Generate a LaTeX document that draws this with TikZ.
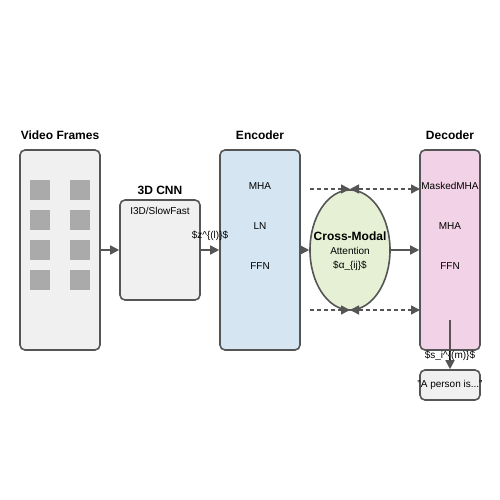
\documentclass[tikz,border=0pt]{standalone}
\usepackage{fontspec}
\setmainfont{Liberation Sans}
\usetikzlibrary{arrows.meta,shapes.geometric}
\definecolor{edgec}{HTML}{555555}
\definecolor{arrc}{HTML}{555555}
\definecolor{grayfill}{HTML}{F0F0F0}
\definecolor{encfill}{HTML}{D5E5F2}
\definecolor{decfill}{HTML}{F2D2E6}
\definecolor{attfill}{HTML}{E5F0D5}
\definecolor{sq}{HTML}{AAAAAA}
\begin{document}
\begin{tikzpicture}[x=1pt,y=-1pt,
  box/.style={draw=edgec,line width=1.6pt,rounded corners=5pt},
  title/.style={font=\fontsize{12}{14}\selectfont\bfseries,inner sep=0pt},
  lbl/.style={font=\fontsize{10}{12}\selectfont,inner sep=0pt},
  sqr/.style={fill=sq,draw=none,minimum size=20pt,inner sep=0pt},
  arr/.style={draw=arrc,line width=1.6pt,-{Triangle[length=9pt,width=9pt]}},
  darr/.style={draw=arrc,line width=1.6pt,dash pattern=on 4pt off 3pt,-{Triangle[length=9pt,width=9pt]}},
  dbarr/.style={draw=arrc,line width=1.6pt,dash pattern=on 4pt off 3pt,{Triangle[length=9pt,width=9pt]}-{Triangle[length=9pt,width=9pt]}}]
\useasboundingbox (0,0) rectangle (500,500);
% Video frames
\node[box,fill=grayfill,minimum width=80pt,minimum height=200pt,inner sep=0pt] (vf) at (60,250) {};
\node[title] (vft) at (60,135) {Video Frames};
\foreach \r/\y in {1/190,2/220,3/250,4/280}{
  \node[sqr] (sqa\r) at (40,\y) {};
  \node[sqr] (sqb\r) at (80,\y) {};
}
% 3D CNN
\node[box,fill=grayfill,minimum width=80pt,minimum height=100pt,inner sep=0pt] (cnn) at (160,250) {};
\node[title] (cnnt) at (160,190) {3D CNN};
\node[lbl] (cnnl) at (160,211) {I3D/SlowFast};
% Encoder
\node[box,fill=encfill,minimum width=80pt,minimum height=200pt,inner sep=0pt] (enc) at (260,250) {};
\node[title] (enct) at (260,135) {Encoder};
\node[lbl] (e1) at (260,186) {MHA};
\node[lbl] (e2) at (260,226) {LN};
\node[lbl] (e3) at (260,266) {FFN};
% Attention
\node[ellipse,draw=edgec,line width=1.6pt,fill=attfill,minimum width=80pt,minimum height=120pt,inner sep=0pt] (att) at (350,250) {};
\node[title] (a1) at (350,236) {Cross-Modal};
\node[lbl] (a2) at (350,251) {Attention};
\node[lbl] (a3) at (350,266) {\$α\_\{ij\}\$};
% Decoder
\node[box,fill=decfill,minimum width=60pt,minimum height=200pt,inner sep=0pt] (dec) at (450,250) {};
\node[title] (dect) at (450,135) {Decoder};
\node[lbl] (d1) at (450,186) {MaskedMHA};
\node[lbl] (d2) at (450,226) {MHA};
\node[lbl] (d3) at (450,266) {FFN};
% Output
\node[box,fill=grayfill,minimum width=60pt,minimum height=30pt,inner sep=0pt] (out) at (450,385) {};
\node[lbl] (outl) at (450,385) {"A person is..."};
% connectors
\draw[arr] (vf.east) -- (cnn.west);
\draw[arr] (cnn.east) -- (enc.west);
\node[lbl] (zl) at (210,236) {\$z\^{}\{(l)\}\$};
\draw[arr] (enc.east) -- (att.west);
\draw[arr] (att.east) -- (dec.west);
\coordinate (dstart) at (450,320);
\draw[arr] (dstart) -- (out.north);
\node[lbl] (sl) at (450,356) {\$s\_i\^{}\{(m)\}\$};
% dashed
\coordinate (t0) at (310,189);
\coordinate (tm) at (350,189);
\coordinate (t1) at (420,189);
\coordinate (b0) at (310,310);
\coordinate (bm) at (350,310);
\coordinate (b1) at (420,310);
\draw[darr] (t0) -- (tm);
\draw[dbarr] (tm) -- (t1);
\draw[darr] (b0) -- (bm);
\draw[dbarr] (bm) -- (b1);
\end{tikzpicture}
\end{document}
